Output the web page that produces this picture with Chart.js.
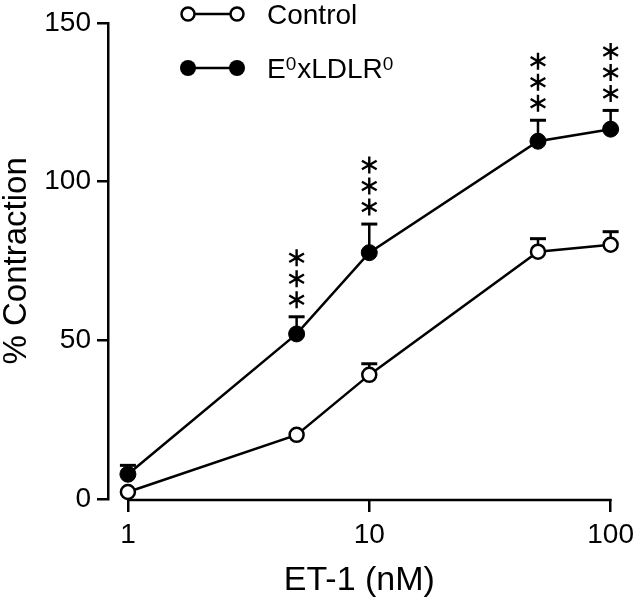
<!DOCTYPE html>
<html>
<head>
<meta charset="utf-8">
<script src="https://cdn.jsdelivr.net/npm/chart.js@4.4.1/dist/chart.umd.min.js"></script>
<style>
  body { margin: 0; background: #fff; }
  canvas { display: block; }
</style>
</head>
<body>
<canvas id="chart" width="640" height="605"></canvas>
<script>
// ET-1 dose response
const doses = [1, 5, 10, 50, 100];
const controlMean = [2.2, 20.2, 39.1, 77.9, 80.1];
const controlErr = [0, 0, 3.5, 4.1, 4.1];
const koMean = [7.8, 52, 77.6, 112.7, 116.5];
const koErr = [2.8, 5.4, 9, 6.6, 5.9];
const koStars = [0, 3, 3, 3, 3];
const seriesNames = ['Control', 'E0xLDLR0'];
const xTicks = [1, 10, 100];
const yTicks = [0, 50, 100, 150];

const FONT = '"Liberation Sans", Arial, Helvetica, sans-serif';
Chart.defaults.color = '#000';
Chart.defaults.font.family = FONT;

// legend text pieces, superscripts flagged
const legendParts = [
  [{ t: seriesNames[0] }],
  [{ t: 'E' }, { t: '0', sup: true }, { t: 'x' }, { t: 'LDLR' }, { t: '0', sup: true }]
];

function drawStar(ctx, cx, cy, r) {
  ctx.beginPath();
  for (let a = 0; a < 3; a++) {
    const ang = Math.PI / 2 + a * Math.PI / 3;
    ctx.moveTo(cx + r * Math.cos(ang), cy - r * Math.sin(ang));
    ctx.lineTo(cx - r * Math.cos(ang), cy + r * Math.sin(ang));
  }
  ctx.stroke();
}

const errorBars = {
  id: 'errorBars',
  beforeDatasetsDraw(chart) {
    const ctx = chart.ctx;
    const y = chart.scales.y;
    ctx.save();
    ctx.strokeStyle = '#000';
    chart.data.datasets.forEach((ds, i) => {
      const meta = chart.getDatasetMeta(i);
      ds.errUp.forEach((e, j) => {
        if (!e) return;
        const px = meta.data[j].x;
        const y0 = y.getPixelForValue(ds.data[j].y);
        const y1 = y.getPixelForValue(ds.data[j].y + e);
        ctx.lineWidth = 2.5;
        ctx.beginPath();
        ctx.moveTo(px, y0);
        ctx.lineTo(px, y1);
        ctx.stroke();
        ctx.lineWidth = 3;
        ctx.beginPath();
        ctx.moveTo(px - 8, y1);
        ctx.lineTo(px + 8, y1);
        ctx.stroke();
      });
    });
    ctx.restore();
  }
};

const extras = {
  id: 'extras',
  afterDraw(chart) {
    const ctx = chart.ctx;
    const xs = chart.scales.x, ys = chart.scales.y;
    ctx.save();
    ctx.strokeStyle = '#000';
    ctx.fillStyle = '#000';

    // detached x axis line, from 1 to 100
    ctx.lineWidth = 2.5;
    ctx.beginPath();
    ctx.moveTo(xs.getPixelForValue(xTicks[0]) - 1, chart.chartArea.bottom + 1);
    ctx.lineTo(xs.getPixelForValue(xTicks[xTicks.length - 1]) + 1, chart.chartArea.bottom + 1);
    ctx.stroke();

    // significance stars
    ctx.lineWidth = 2.4;
    const meta = chart.getDatasetMeta(1);
    koStars.forEach((n, j) => {
      const top = ys.getPixelForValue(koMean[j] + koErr[j]);
      for (let k = 0; k < n; k++) {
        drawStar(ctx, meta.data[j].x, top - 17 - k * 21, 8.5);
      }
    });

    // legend
    const rows = [14, 68];
    rows.forEach((ry, i) => {
      ctx.lineWidth = 2.5;
      ctx.beginPath();
      ctx.moveTo(188, ry);
      ctx.lineTo(237, ry);
      ctx.stroke();
      [188, 237].forEach(cx => {
        ctx.beginPath();
        ctx.arc(cx, ry, i === 0 ? 6.5 : 8, 0, Math.PI * 2);
        ctx.fillStyle = i === 0 ? '#fff' : '#000';
        ctx.fill();
        if (i === 0) ctx.stroke();
      });
      ctx.fillStyle = '#000';
      ctx.textBaseline = 'alphabetic';
      let tx = 267;
      legendParts[i].forEach(p => {
        ctx.font = (p.sup ? '19px ' : '28px ') + FONT;
        ctx.fillText(p.t, tx, p.sup ? ry + 2 : ry + 10);
        tx += ctx.measureText(p.t).width + (p.sup ? 1 : 0);
      });
    });
    ctx.restore();
  }
};

new Chart(document.getElementById('chart'), {
  type: 'line',
  data: {
    datasets: [
      {
        label: seriesNames[0],
        data: doses.map((d, i) => ({ x: d, y: controlMean[i] })),
        errUp: controlErr,
        borderColor: '#000',
        borderWidth: 2.5,
        pointRadius: 7,
        pointBorderWidth: 2.5,
        pointBackgroundColor: '#fff',
        pointBorderColor: '#000',
        tension: 0,
        clip: false
      },
      {
        label: seriesNames[1],
        data: doses.map((d, i) => ({ x: d, y: koMean[i] })),
        errUp: koErr,
        borderColor: '#000',
        borderWidth: 2.5,
        pointRadius: 8,
        pointBorderWidth: 1,
        pointBackgroundColor: '#000',
        pointBorderColor: '#000',
        tension: 0,
        clip: false
      }
    ]
  },
  options: {
    responsive: false,
    animation: false,
    devicePixelRatio: 1,
    layout: { padding: { top: 15, right: 28, left: 0, bottom: 0 } },
    plugins: { legend: { display: false }, tooltip: { enabled: false } },
    scales: {
      x: {
        type: 'logarithmic',
        min: 0.827,
        max: 100,
        afterBuildTicks: s => { s.ticks = xTicks.map(v => ({ value: v })); },
        afterFit: s => { s.height = 106; },
        grid: { drawOnChartArea: false, tickLength: 13, lineWidth: 2.5, color: '#000' },
        border: { display: false },
        ticks: { font: { size: 28 }, padding: 6, maxRotation: 0, callback: v => String(v) },
        title: { display: true, text: 'ET-1 (nM)', font: { size: 34, lineHeight: 1 }, padding: { top: 0, bottom: 7 } }
      },
      y: {
        min: 0,
        max: 150,
        afterBuildTicks: s => { s.ticks = yTicks.map(v => ({ value: v })); },
        afterFit: s => { s.width = 108; },
        grid: { drawOnChartArea: false, tickLength: 11, lineWidth: 2.5, color: '#000' },
        border: { display: true, color: '#000', width: 2.5 },
        ticks: { font: { size: 28 }, padding: 6 },
        title: { display: true, text: '% Contraction', font: { size: 33, lineHeight: 1 }, padding: 0 }
      }
    }
  },
  plugins: [errorBars, extras]
});
</script>
</body>
</html>
